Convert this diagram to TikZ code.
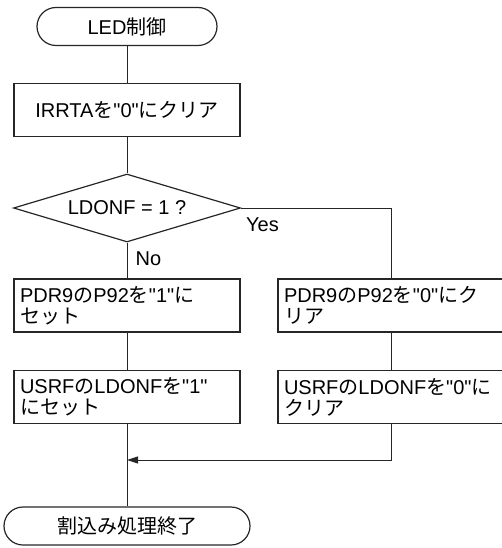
\documentclass[tikz,border=0pt]{standalone}
\usepackage{fontspec}
\setmainfont{Liberation Sans}
\newfontfamily\jp{Noto Sans CJK JP}
\newcommand\dq{\XeTeXglyph\XeTeXcharglyph"22\relax}
\usetikzlibrary{shapes.geometric,arrows.meta}
\tikzset{
  every node/.style={font=\fontsize{20}{21}\selectfont},
  line/.style={line width=1.2pt, draw=black!85},
  term/.style={line, rectangle, rounded corners=19pt, minimum height=38pt, inner sep=0pt},
  procbox/.style={line, rectangle, minimum width=226pt, minimum height=53pt, text width=214pt, inner xsep=6pt, inner ysep=0pt, align=left},
  decis/.style={line, diamond, aspect=3.34, minimum width=227pt, minimum height=68pt, inner sep=0pt},
  lbl/.style={inner sep=0pt},
  conn/.style={line width=1pt, draw=black!85},
  arr/.style={conn, -{Triangle[length=11pt,width=7pt]}}
}
\begin{document}
\begin{tikzpicture}[x=1pt,y=-1pt]
\useasboundingbox (0,0) rectangle (502,548);
\node[term, minimum width=180pt] (start) at (127,26.5) {LED{\jp 制御}};
\node[procbox, align=center] (clr) at (127,110) {IRRTA{\jp を}\dq0\dq{\jp にクリア}};
\node[decis] (dec) at (127,208) {LDONF = 1 ?};
\node[procbox] (l1) at (127,305.5) {PDR9{\jp の}P92{\jp を}\dq1\dq{\jp に}\\{\jp セット}};
\node[procbox] (r1) at (391,305.5) {PDR9{\jp の}P92{\jp を}\dq0\dq{\jp にク}\\{\jp リア}};
\node[procbox] (l2) at (127,397) {USRF{\jp の}LDONF{\jp を}\dq1\dq\\{\jp にセット}};
\node[procbox] (r2) at (391,397) {USRF{\jp の}LDONF{\jp を}\dq0\dq{\jp に}\\{\jp クリア}};
\node[term, minimum width=246pt] (stop) at (127,526) {{\jp 割込み処理終了}};
\node[lbl] (yes) at (262.5,225) {Yes};
\node[lbl] (no) at (148.5,258.5) {No};
\coordinate (merge) at (127,460);
\draw[conn] (start) -- (clr);
\draw[conn] (clr) -- (dec);
\draw[conn] (dec.south) -- (l1.north);
\draw[conn] (dec.east) -| (r1.north);
\draw[conn] (l1) -- (l2);
\draw[conn] (r1) -- (r2);
\draw[conn] (l2.south) -- (stop.north);
\draw[arr] (r2.south) |- (merge);
\end{tikzpicture}
\end{document}
